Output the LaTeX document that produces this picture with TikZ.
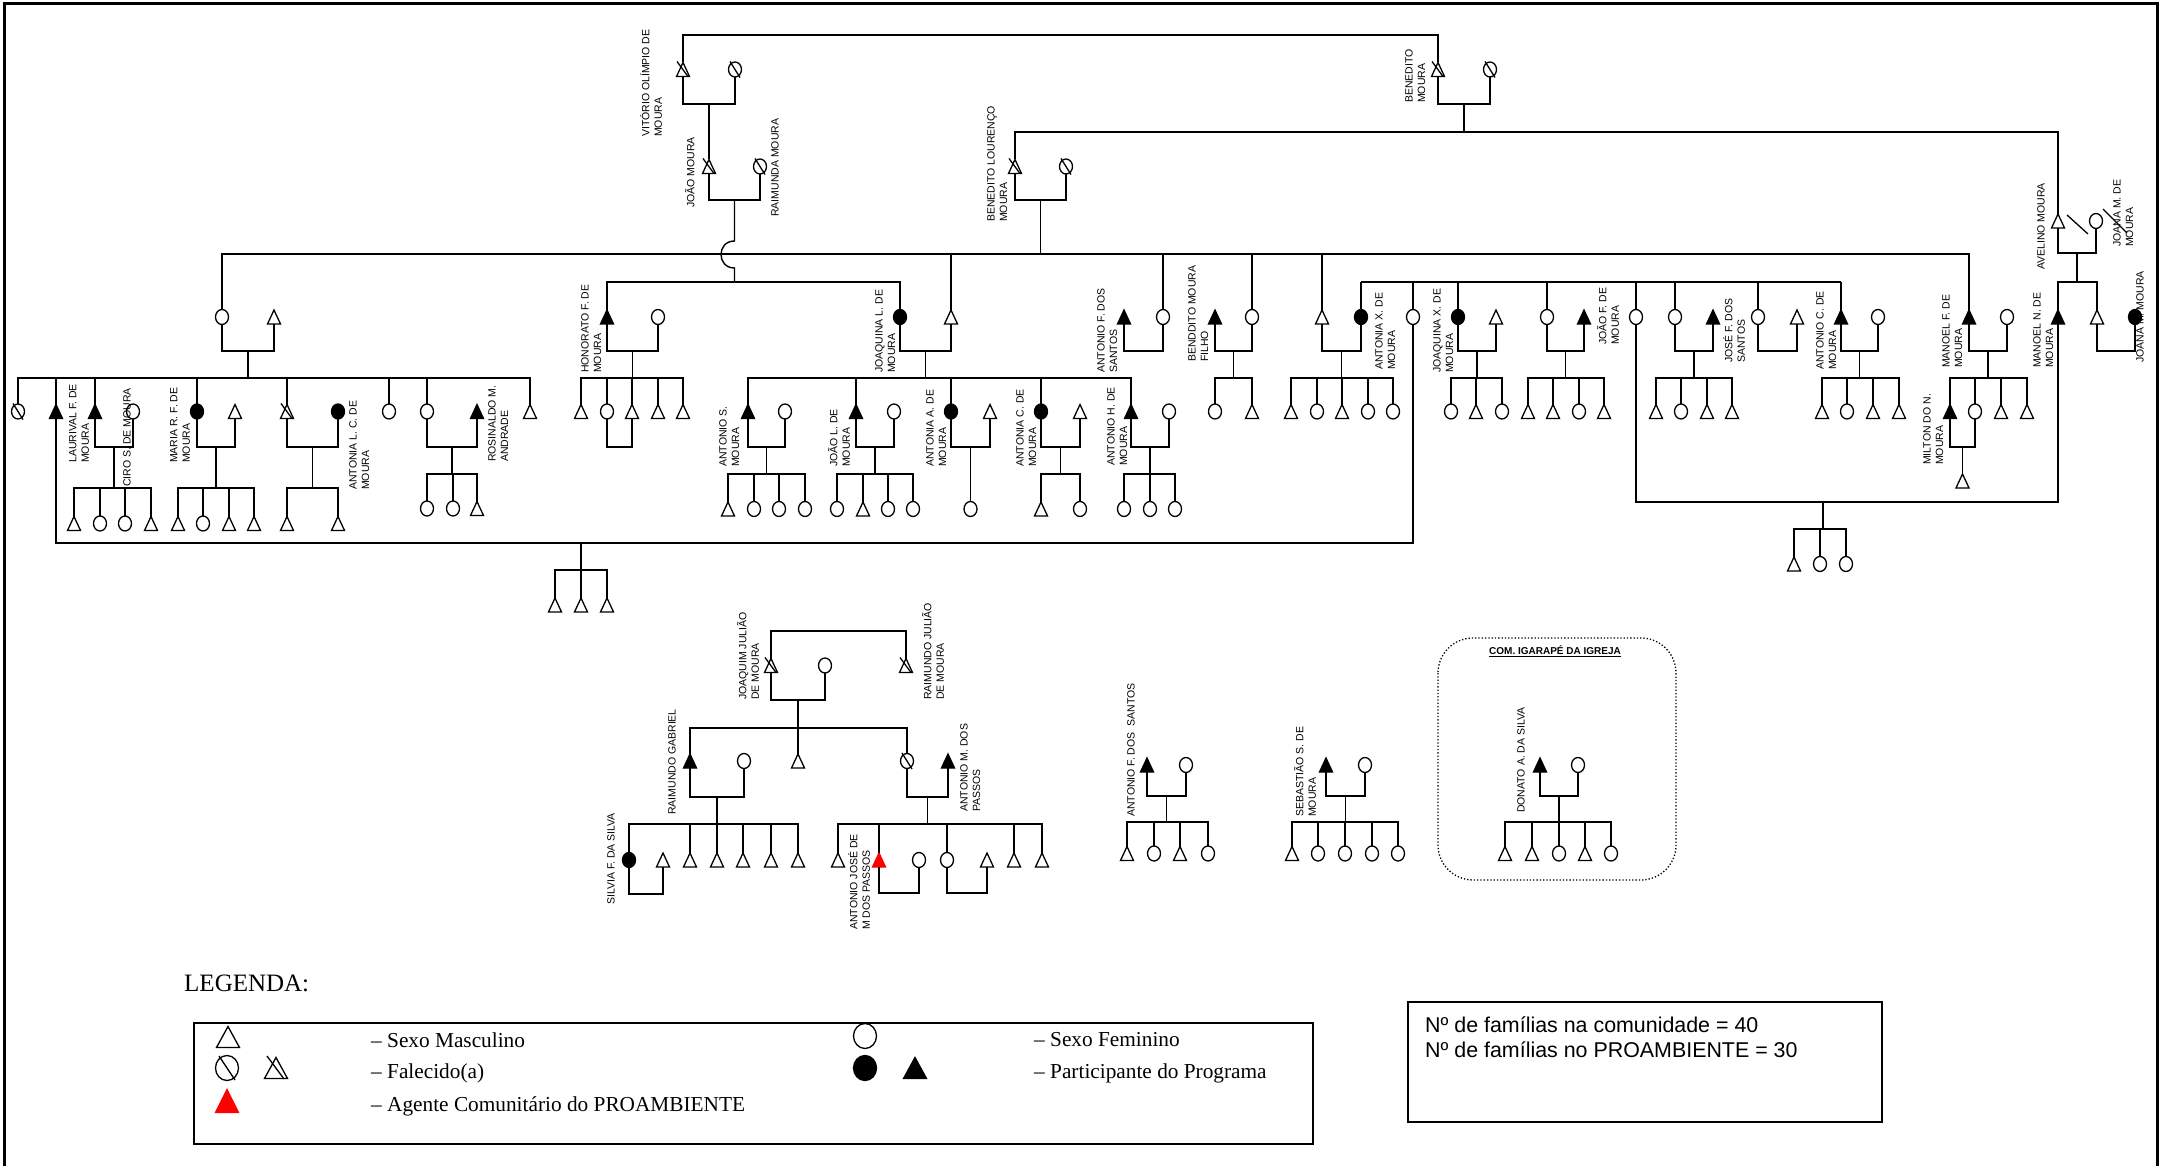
\documentclass[tikz,border=0pt]{standalone}
\usepackage{fontspec}
\setmainfont{Liberation Sans}
\newfontfamily\tnr{Liberation Serif}
\usetikzlibrary{shapes.geometric,calc}
\tikzset{
 ln/.style={line width=1.4pt},
 sym/.style={line width=1.3pt, fill=white},
 slash/.style={line width=1.3pt},
 part/.style={fill=black},
 agent/.style={fill=red, draw=red},
 tribox/.style={inner sep=0pt, outer sep=0pt, minimum width=13pt, minimum height=14pt},
 circ/.style={ellipse, draw, line width=1.3pt, fill=white, inner sep=0pt, outer sep=0pt, minimum width=13pt, minimum height=15pt},
 lab/.style={rotate=90, anchor=north west, inner sep=0pt, align=left, font=\fontsize{10.5}{12.5}\selectfont},
 leg/.style={anchor=west, inner sep=0pt, font=\tnr\fontsize{21.3}{24}\selectfont},
}
\newcommand\PM[4][]{\node[tribox] (#2) at (#3,#4) {};\draw[sym,#1] (#2.south west) -- (#2.north) -- (#2.south east) -- cycle;}
\newcommand\PF[4][]{\node[circ,#1] (#2) at (#3,#4) {};}
\newcommand\DM[3]{\PM{#1}{#2}{#3}\draw[slash] ($(#1.center)+(-6,-8)$) -- ($(#1.center)+(5,7)$);}
\newcommand\DF[3]{\PF{#1}{#2}{#3}\draw[slash] ($(#1.center)+(-5,-8)$) -- ($(#1.center)+(5,8)$);}
\newcommand\cpl[4]{\draw[ln] (#1.south) -- (#1.south |- 0,#3) coordinate (cplA) -- (#2.south |- 0,#3) coordinate (cplB) -- (#2.south);\coordinate (#4) at ($(cplA)!0.5!(cplB)$);}
\newcommand\kids[3]{\draw[ln] (#1) -- (#1 |- 0,#2);\foreach \ch in {#3}{\draw[ln] (#1 |- 0,#2) -- (\ch.north |- 0,#2) -- (\ch.north);}}
\newcommand\lab[4]{\node[lab] (#1) at (#2,#3) {#4};}
\begin{document}
\begin{tikzpicture}[x=1pt,y=-1pt]
\useasboundingbox (0,0) rectangle (2161,1166);
% frame
\draw[line width=3pt] (4,1166) -- (4,4) -- (2157,4) -- (2157,1166);

% ---------- generation 1 and 2
\DM{vit}{683}{69.5} \DF{vitw}{735}{69.5}
\DM{ben}{1438}{69.5} \DF{benw}{1490}{69.5}
\DM{joao}{709}{166.5} \DF{raim}{760}{166.5}
\DM{bl}{1015}{166.5} \DF{blw}{1066}{166.5}
\PM{av}{2058}{221} \PF{avw}{2096}{221}

% ---------- row C
\PF{c1}{222}{317} \PM{c2}{274}{317}
\PM[part]{hon}{607}{317} \PF{honw}{658}{317}
\PF[part]{jql}{900}{317} \PM{jqlh}{951}{317}
\PM[part]{afs}{1124}{317} \PF{afsw}{1163}{317}
\PM[part]{bmf}{1215}{317} \PF{bmfw}{1252}{317}
\PM{axh}{1322}{317} \PF[part]{ax}{1361}{317}
\PF{c1413}{1413}{317}
\PF[part]{jqx}{1458}{317} \PM{jqxh}{1496}{317}
\PF{jfw}{1547}{317} \PM[part]{jf}{1584}{317}
\PF{c1636}{1636}{317}
\PF{jfsw}{1675}{317} \PM[part]{jfs}{1713}{317}
\PF{c1758}{1758}{317} \PM{c1797}{1797}{317}
\PM[part]{acm}{1841}{317} \PF{acmw}{1878}{317}
\PM[part]{mf}{1969}{317} \PF{mfw}{2007}{317}
\PM[part]{mn}{2058}{317} \PM{c2097}{2097}{317} \PF[part]{jmm}{2135}{317}

% ---------- row D
\DF{d18}{18}{411.5} \PM[part]{laur}{56}{411.5} \PM[part]{d95}{95}{411.5} \PF{d133}{133}{411.5}
\PF[part]{maria}{197}{411.5} \PM{d235}{235}{411.5} \DM{d287}{287}{411.5} \PF[part]{alc}{338}{411.5}
\PF{d389}{389}{411.5} \PF{d427}{427}{411.5} \PM[part]{ros}{477}{411.5} \PM{d530}{530}{411.5}
\PM{h1}{581}{411.5} \PF{h2}{607}{411.5} \PM{h3}{632}{411.5} \PM{h4}{658}{411.5} \PM{h5}{683}{411.5}
\PM[part]{as}{748}{411.5} \PF{asw}{785}{411.5}
\PM[part]{jl}{856}{411.5} \PF{jlw}{894}{411.5}
\PF[part]{aa}{951}{411.5} \PM{aah}{990}{411.5}
\PF[part]{ac}{1041}{411.5} \PM{ach}{1080}{411.5}
\PM[part]{ah}{1131}{411.5} \PF{ahw}{1169}{411.5}
\PF{b1}{1215}{411.5} \PM{b2}{1252}{411.5}
\PM{x1}{1291}{411.5} \PF{x2}{1317}{411.5} \PM{x3}{1342}{411.5} \PF{x4}{1368}{411.5} \PF{x5}{1393}{411.5}
\PF{q1}{1451}{411.5} \PM{q2}{1476}{411.5} \PF{q3}{1502}{411.5}
\PM{j1}{1528}{411.5} \PM{j2}{1553}{411.5} \PF{j3}{1579}{411.5} \PM{j4}{1604}{411.5}
\PM{s1}{1656}{411.5} \PF{s2}{1681}{411.5} \PM{s3}{1707}{411.5} \PM{s4}{1732}{411.5}
\PM{k1}{1822}{411.5} \PF{k2}{1847}{411.5} \PM{k3}{1873}{411.5} \PM{k4}{1899}{411.5}
\PM[part]{mil}{1950}{411.5} \PF{milw}{1975}{411.5} \PM{f3}{2001}{411.5} \PM{f4}{2027}{411.5}

% ---------- row E
\PM{e74}{74}{523.5} \PF{e100}{100}{523.5} \PF{e125}{125}{523.5} \PM{e151}{151}{523.5}
\PM{e178}{178}{523.5} \PF{e203}{203}{523.5} \PM{e229}{229}{523.5} \PM{e254}{254}{523.5}
\PM{e287}{287}{523.5} \PM{e338}{338}{523.5}
\PF{r427}{427}{508.5} \PF{r453}{453}{508.5} \PM{r477}{477}{508.5}
\PM{a728}{728}{509} \PF{a754}{754}{509} \PF{a779}{779}{509} \PF{a805}{805}{509}
\PF{l837}{837}{509} \PM{l863}{863}{509} \PF{l888}{888}{509} \PF{l913}{913}{509}
\PF{aak}{970.5}{509}
\PM{ck1}{1041}{509} \PF{ck2}{1080}{509}
\PF{hk1}{1124}{509} \PF{hk2}{1150}{509} \PF{hk3}{1175}{509}
\PM{milk}{1962.5}{481}
\PM{lk1}{555}{605} \PM{lk2}{581}{605} \PM{lk3}{607}{605}
\PM{mk1}{1794}{564} \PF{mk2}{1820}{564} \PF{mk3}{1846}{564}

% ---------- connectors upper tree
\draw[ln] (vit.north) -- (vit.north |- 0,35) -- (ben.north |- 0,35) -- (ben.north);
\cpl{vit}{vitw}{104}{cmv} \draw[ln] (cmv) -- (joao.north);
\cpl{ben}{benw}{104}{cmb} \kids{cmb}{132}{bl,av}
\cpl{joao}{raim}{200}{cmj}
\draw[ln] (cmj) -- (cmj |- 0,241) .. controls +(-18,0) and +(-18,0) .. (cmj |- 0,268) -- (cmj |- 0,282);
\foreach \ch in {hon,jql}{\draw[ln] (cmj |- 0,282) -- (\ch.north |- 0,282) -- (\ch.north);}
\cpl{bl}{blw}{200}{cml} \kids{cml}{254}{c1,jqlh,afsw,bmfw,axh,mf}
\cpl{av}{avw}{253}{cma} \kids{cma}{282}{mn,c2097}
\draw[slash] (2067,215) -- (2088,234);
\draw[slash] (2103,209) -- (2127,233);
\draw[ln] (ax.north |- 0,282) -- (acm.north |- 0,282);
\foreach \ch in {ax,c1413,jqx,jfw,c1636,jfsw,c1758,acm}{\draw[ln] (\ch.north |- 0,282) -- (\ch.north);}

% row C couples
\cpl{c1}{c2}{351}{cm1} \kids{cm1}{378}{d18,laur,d95,maria,d287,d389,d427,d530}
\cpl{hon}{honw}{351}{cm2} \kids{cm2}{378}{h1,h2,h3,h4,h5}
\cpl{jql}{jqlh}{351}{cm3} \kids{cm3}{378}{as,jl,aa,ac,ah}
\cpl{afs}{afsw}{351}{cm4}
\cpl{bmf}{bmfw}{351}{cm5} \kids{cm5}{378}{b1,b2}
\cpl{axh}{ax}{351}{cm6} \kids{cm6}{378}{x1,x2,x3,x4,x5}
\cpl{jqx}{jqxh}{351}{cm7} \kids{cm7}{378}{q1,q2,q3}
\cpl{jfw}{jf}{351}{cm8} \kids{cm8}{378}{j1,j2,j3,j4}
\cpl{jfsw}{jfs}{351}{cm9} \kids{cm9}{378}{s1,s2,s3,s4}
\cpl{c1758}{c1797}{351}{cm10}
\cpl{acm}{acmw}{351}{cm11} \kids{cm11}{378}{k1,k2,k3,k4}
\cpl{mf}{mfw}{351}{cm12} \kids{cm12}{378}{mil,milw,f3,f4}
\cpl{c2097}{jmm}{351}{cm13}

% row D couples
\cpl{d95}{d133}{447}{cm14} \kids{cm14}{488}{e74,e100,e125,e151}
\cpl{maria}{d235}{447}{cm15} \kids{cm15}{488}{e178,e203,e229,e254}
\cpl{d287}{alc}{447}{cm16} \kids{cm16}{488}{e287,e338}
\cpl{d427}{ros}{447}{cm17} \kids{cm17}{474}{r427,r453,r477}
\cpl{h2}{h3}{447}{cm18}
\cpl{as}{asw}{447}{cm19} \kids{cm19}{474}{a728,a754,a779,a805}
\cpl{jl}{jlw}{447}{cm20} \kids{cm20}{474}{l837,l863,l888,l913}
\cpl{aa}{aah}{447}{cm21} \draw[ln] (cm21) -- (aak.north);
\cpl{ac}{ach}{447}{cm22} \kids{cm22}{474}{ck1,ck2}
\cpl{ah}{ahw}{447}{cm23} \kids{cm23}{474}{hk1,hk2,hk3}
\cpl{mil}{milw}{447}{cm24} \draw[ln] (cm24) -- (milk.north);

% long marriage lines
\draw[ln] (laur.south) -- (laur.south |- 0,543) -- (c1413.south |- 0,543) -- (c1413.south);
\coordinate (lbm) at (581,543);
\kids{lbm}{570}{lk1,lk2,lk3}
\draw[ln] (mn.south) -- (mn.south |- 0,502) -- (c1636.south |- 0,502) -- (c1636.south);
\coordinate (mnm) at (1823,502);
\kids{mnm}{529}{mk1,mk2,mk3}

% ---------- lower family (Joaquim Julião)
\DM{jj}{771}{665.5} \PF{jjw}{825}{665.5} \DM{rj}{906}{665.5}
\PM[part]{rg}{690}{761} \PF{rgw}{744}{761} \PM{g798}{798}{761} \DF{g907}{907}{761} \PM[part]{amp}{948}{761}
\PF[part]{sil}{629}{860} \PM{silh}{663}{860} \PM{t690}{690}{860} \PM{t717}{717}{860} \PM{t743}{743}{860} \PM{t771}{771}{860} \PM{t798}{798}{860}
\PM{t838}{838}{860} \PM[agent]{ajp}{879}{860} \PF{ajpw}{919}{860} \PF{t947}{947}{860} \PM{t987}{987}{860} \PM{t1014}{1014}{860} \PM{t1042}{1042}{860}
\draw[ln] (jj.north) -- (jj.north |- 0,631) -- (rj.north |- 0,631) -- (rj.north);
\cpl{jj}{jjw}{700}{cm30} \kids{cm30}{728}{rg,g798,g907}
\cpl{rg}{rgw}{797}{cm31} \kids{cm31}{824}{sil,t690,t717,t743,t771,t798}
\cpl{g907}{amp}{797}{cm32} \kids{cm32}{824}{t838,ajp,t947,t1014,t1042}
\cpl{sil}{silh}{894}{cm33}
\cpl{ajp}{ajpw}{893}{cm34}
\cpl{t947}{t987}{893}{cm35}

% ---------- small families
\PM[part]{af}{1147}{765} \PF{afw}{1186}{765}
\PM{u1}{1127}{853.5} \PF{u2}{1154}{853.5} \PM{u3}{1180}{853.5} \PF{u4}{1208}{853.5}
\cpl{af}{afw}{796}{cm40} \kids{cm40}{822}{u1,u2,u3,u4}
\PM[part]{seb}{1326}{765} \PF{sebw}{1365}{765}
\PM{v1}{1292}{853.5} \PF{v2}{1318}{853.5} \PF{v3}{1345}{853.5} \PF{v4}{1372}{853.5} \PF{v5}{1398}{853.5}
\cpl{seb}{sebw}{796}{cm41} \kids{cm41}{822}{v1,v2,v3,v4,v5}
\PM[part]{don}{1540}{765} \PF{donw}{1578}{765}
\PM{w1}{1505}{853.5} \PM{w2}{1532}{853.5} \PF{w3}{1559}{853.5} \PM{w4}{1585}{853.5} \PF{w5}{1611}{853.5}
\cpl{don}{donw}{796}{cm42} \kids{cm42}{822}{w1,w2,w3,w4,w5}
\draw[dotted, line width=1.3pt, rounded corners=35pt] (1438,638) rectangle (1676,880);
\node[font=\bfseries\fontsize{10}{12}\selectfont, inner sep=0pt] (igtitle) at (1555,651) {\underline{COM. IGARAPÉ DA IGREJA}};

% ---------- labels
\lab{l1}{640}{137}{VITÓRIO OLÍMPIO DE\\MOURA}
\lab{l2}{685}{208}{JOÃO MOURA}
\lab{l3}{771}{217}{RAIMUNDA MOURA}
\lab{l4}{987}{222}{BENEDITO LOURENÇO\\MOURA}
\lab{l5}{1405}{103}{BENEDITO\\MOURA}
\lab{l6}{69}{463}{LAURIVAL F. DE\\MOURA}
\lab{l7}{123}{487}{CIRO S. DE MOURA}
\lab{l8}{170}{463}{MARIA R. F. DE\\MOURA}
\lab{l9}{349}{490}{ANTONIA L. C. DE\\MOURA}
\lab{l10}{488}{462}{ROSINALDO M.\\ANDRADE}
\lab{l11}{581}{373}{HONORATO F. DE\\MOURA}
\lab{l12}{719}{467}{ANTONIO S.\\MOURA}
\lab{l13}{875}{373}{JOAQUINA L. DE\\MOURA}
\lab{l14}{828}{467}{JOÃO L. DE\\MOURA}
\lab{l15}{926}{467}{ANTONIA A. DE\\MOURA}
\lab{l16}{1016}{467}{ANTONIA C. DE\\MOURA}
\lab{l17}{1107}{466}{ANTONIO H. DE\\MOURA}
\lab{l18}{1097}{373}{ANTONIO F. DOS\\SANTOS}
\lab{l19}{1188}{362}{BENDDITO MOURA\\FILHO}
\lab{l20}{1375}{370}{ANTONIA X. DE\\MOURA}
\lab{l21}{1433}{373}{JOAQUINA X. DE\\MOURA}
\lab{l22}{1597}{345}{JOÃO F. DE\\MOURA}
\lab{l23}{1723}{363}{JOSÉ F. DOS\\SANTOS}
\lab{l24}{1816}{370}{ANTONIO C. DE\\MOURA}
\lab{l25}{1942}{368}{MANOEL F. DE\\MOURA}
\lab{l26}{1923}{465}{MILTON DO N.\\MOURA}
\lab{l27}{2033}{368}{MANOEL N. DE\\MOURA}
\lab{l28}{2037}{270}{AVELINO MOURA}
\lab{l29}{2113}{247}{JOANA M. DE\\MOURA}
\lab{l30}{2136}{363}{JOANA M. MOURA}
\lab{l31}{737}{700}{JOAQUIM JULIÃO\\DE MOURA}
\lab{l32}{922}{700}{RAIMUNDO JULIÃO\\DE MOURA}
\lab{l33}{668}{815}{RAIMUNDO GABRIEL}
\lab{l34}{960}{812}{ANTONIO M. DOS\\PASSOS}
\lab{l35}{607}{905}{SILVIA F. DA SILVA}
\lab{l36}{848}{930}{ANTONIO JOSÉ DE\\M DOS PASSOS}
\lab{l37}{1127}{817}{ANTONIO F. DOS\ \ SANTOS}
\lab{l38}{1294}{817}{SEBASTIÃO S. DE\\MOURA}
\lab{l39}{1517}{813}{DONATO A. DA SILVA}

% ---------- legend
\node[anchor=west, inner sep=0pt, font=\tnr\fontsize{25}{28}\selectfont] (lgtitle) at (184,983) {LEGENDA:};
\draw[line width=1.6pt] (194,1023) rectangle (1313,1144);
\node[tribox, minimum width=23pt, minimum height=21pt] (lgM) at (228,1037) {};
\draw[sym] (lgM.south west) -- (lgM.north) -- (lgM.south east) -- cycle;
\node[circ, minimum width=23pt, minimum height=25pt] (lgF) at (865,1036) {};
\node[circ, minimum width=23pt, minimum height=25pt] (lgDF) at (227,1068) {};
\draw[slash] ($(lgDF.center)+(-8,-12)$) -- ($(lgDF.center)+(8,12)$);
\node[tribox, minimum width=23pt, minimum height=21pt] (lgDM) at (276,1068) {};
\draw[sym] (lgDM.south west) -- (lgDM.north) -- (lgDM.south east) -- cycle;
\draw[slash] ($(lgDM.center)+(-9,-12)$) -- ($(lgDM.center)+(8,11)$);
\node[circ, part, minimum width=23pt, minimum height=25pt] (lgPF) at (865,1068) {};
\node[tribox, minimum width=23pt, minimum height=21pt] (lgPM) at (915,1068) {};
\draw[sym, part] (lgPM.south west) -- (lgPM.north) -- (lgPM.south east) -- cycle;
\node[tribox, minimum width=23pt, minimum height=23pt] (lgR) at (227,1101) {};
\draw[sym, agent] (lgR.south west) -- (lgR.north) -- (lgR.south east) -- cycle;
\node[leg] (lt1) at (371,1040) {– Sexo Masculino};
\node[leg] (lt2) at (371,1073) {– Falecido(a)};
\node[leg] (lt3) at (371,1106) {– Agente Comunitário do PROAMBIENTE};
\node[leg] (lt4) at (1034,1040) {– Sexo Feminino};
\node[leg] (lt5) at (1034,1073) {– Participante do Programa};

% ---------- info box
\draw[line width=2pt] (1408,1002) rectangle (1882,1122);
\node[anchor=north west, align=left, inner sep=0pt, font=\fontsize{21.4}{25}\selectfont] (info) at (1425,1017) {Nº de famílias na comunidade = 40\\Nº de famílias no PROAMBIENTE = 30};
\end{tikzpicture}
\end{document}
